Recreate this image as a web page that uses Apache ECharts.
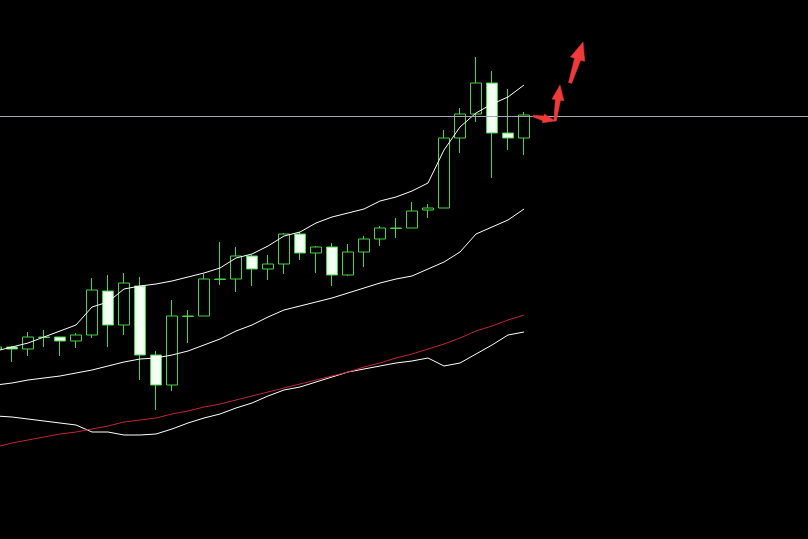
<!DOCTYPE html>
<html>
<head>
<meta charset="utf-8">
<script src="https://cdn.jsdelivr.net/npm/echarts@6/dist/echarts.min.js"></script>
<style>
html,body{margin:0;padding:0;background:#000;}
#chart{width:808px;height:539px;}
</style>
</head>
<body>
<div id="chart"></div>
<script>
// ---- data ----
var slotCount = 52;
var categories = [];
for (var i = 0; i < slotCount; i++) { categories.push('D' + (i + 1)); }

// [open, close, low, high]
var candles = [
  [5.02, 5.06, 4.96, 5.10],
  [5.06, 5.02, 4.76, 5.08],
  [5.02, 5.26, 4.88, 5.36],
  [5.25, 5.26, 5.06, 5.40],
  [5.26, 5.18, 4.88, 5.26],
  [5.18, 5.30, 5.04, 5.34],
  [5.30, 6.20, 5.24, 6.44],
  [6.18, 5.50, 5.06, 6.50],
  [5.50, 6.34, 5.30, 6.54],
  [6.28, 4.90, 4.40, 6.46],
  [4.90, 4.30, 3.80, 4.98],
  [4.30, 5.68, 4.18, 6.00],
  [5.67, 5.68, 5.14, 5.80],
  [5.68, 6.42, 5.68, 6.52],
  [6.41, 6.42, 6.30, 7.16],
  [6.42, 6.88, 6.16, 7.06],
  [6.88, 6.62, 6.28, 6.90],
  [6.62, 6.72, 6.40, 6.90],
  [6.72, 7.32, 6.52, 7.34],
  [7.32, 6.94, 6.80, 7.36],
  [6.94, 7.06, 6.54, 7.08],
  [7.06, 6.50, 6.28, 7.14],
  [6.50, 6.96, 6.48, 7.12],
  [6.96, 7.22, 6.66, 7.28],
  [7.22, 7.44, 7.08, 7.48],
  [7.43, 7.44, 7.24, 7.64],
  [7.44, 7.78, 7.44, 7.96],
  [7.80, 7.84, 7.64, 7.92],
  [7.84, 9.24, 7.84, 9.40],
  [9.24, 9.72, 8.94, 9.84],
  [9.72, 10.34, 9.56, 10.86],
  [10.34, 9.34, 8.44, 10.58],
  [9.34, 9.24, 9.00, 10.22],
  [9.24, 9.70, 8.90, 9.76]
];

var upperBand = [4.98, 5.06, 5.14, 5.26, 5.38, 5.50, 5.86, 5.96, 6.22, 6.28, 6.32, 6.38, 6.46, 6.54, 6.64, 6.84, 6.92, 7.08, 7.28, 7.36, 7.54, 7.66, 7.74, 7.82, 7.98, 8.06, 8.18, 8.34, 9.00, 9.46, 9.74, 9.92, 10.06, 10.30];
var midBand   = [4.30, 4.34, 4.40, 4.44, 4.48, 4.54, 4.60, 4.68, 4.76, 4.82, 4.84, 4.90, 4.98, 5.10, 5.22, 5.38, 5.50, 5.66, 5.80, 5.88, 5.96, 6.04, 6.14, 6.24, 6.34, 6.42, 6.48, 6.62, 6.76, 6.96, 7.32, 7.46, 7.60, 7.82];
var lowerLine = [3.68, 3.66, 3.62, 3.58, 3.54, 3.50, 3.36, 3.36, 3.30, 3.30, 3.32, 3.42, 3.54, 3.64, 3.72, 3.84, 3.94, 4.08, 4.20, 4.26, 4.36, 4.46, 4.56, 4.62, 4.68, 4.74, 4.78, 4.84, 4.68, 4.74, 4.92, 5.10, 5.30, 5.36];
var redLine   = [3.06, 3.14, 3.20, 3.26, 3.32, 3.36, 3.42, 3.48, 3.56, 3.60, 3.64, 3.72, 3.78, 3.86, 3.92, 4.00, 4.08, 4.16, 4.24, 4.32, 4.40, 4.48, 4.56, 4.66, 4.74, 4.84, 4.92, 5.02, 5.12, 5.24, 5.38, 5.48, 5.60, 5.70];

var refLevel = 9.68;

// arrows: [fromIndex, fromPrice, toIndex, toPrice]
var arrows = [
  [33.56, 9.68, 34.94, 9.58],
  [34.94, 9.58, 35.25, 10.30],
  [35.88, 10.34, 36.69, 11.16]
];

// ---- styles (not data) ----
var arrowSizes = [
  { w0: 0.8, w1: 2.4, hl: 12, hw: 4.5 },
  { w0: 1.2, w1: 2.6, hl: 15, hw: 6 },
  { w0: 1.6, w1: 3.2, hl: 18, hw: 7.5 }
];

var chart = echarts.init(document.getElementById('chart'), null, { renderer: 'canvas' });

function arrowRender(params, api) {
  var p1 = api.coord([api.value(0), api.value(1)]);
  var p2 = api.coord([api.value(2), api.value(3)]);
  var dx = p2[0] - p1[0], dy = p2[1] - p1[1];
  var len = Math.sqrt(dx * dx + dy * dy);
  var ux = dx / len, uy = dy / len;
  var nx = -uy, ny = ux;
  var s = arrowSizes[params.dataIndex];
  var bx = p2[0] - ux * s.hl, by = p2[1] - uy * s.hl;
  var pts = [
    [p1[0] + nx * s.w0, p1[1] + ny * s.w0],
    [bx + nx * s.w1, by + ny * s.w1],
    [bx + nx * s.hw, by + ny * s.hw],
    [p2[0], p2[1]],
    [bx - nx * s.hw, by - ny * s.hw],
    [bx - nx * s.w1, by - ny * s.w1],
    [p1[0] - nx * s.w0, p1[1] - ny * s.w0]
  ];
  return {
    type: 'polygon',
    shape: { points: pts },
    style: { fill: '#f03a3a', stroke: '#f03a3a', lineWidth: 0.5 }
  };
}

var lineStyleWhite = { color: '#ffffff', width: 1 };

var option = {
  backgroundColor: '#000000',
  animation: false,
  grid: { left: -12, top: 0, width: 832, height: 539, containLabel: false, outerBoundsMode: 'none' },
  xAxis: [
    { type: 'category', data: categories, show: false, boundaryGap: true },
    { type: 'value', min: -0.5, max: slotCount - 0.5, show: false }
  ],
  yAxis: [{ type: 'value', min: 1.22, max: 12, show: false, scale: true }],
  series: [
    {
      type: 'candlestick',
      data: candles,
      barWidth: 11,
      itemStyle: {
        color: '#000000',
        color0: '#f2fff2',
        borderColor: '#44d444',
        borderColor0: '#44d444',
        borderWidth: 1
      },
      markLine: {
        silent: true,
        symbol: ['none', 'none'],
        label: { show: false },
        lineStyle: { color: '#a4a4b4', width: 1, type: 'solid' },
        data: [{ yAxis: refLevel }]
      },
      z: 3
    },
    { type: 'line', data: upperBand, symbol: 'none', lineStyle: lineStyleWhite, z: 4 },
    { type: 'line', data: midBand, symbol: 'none', lineStyle: lineStyleWhite, z: 4 },
    { type: 'line', data: lowerLine, symbol: 'none', lineStyle: lineStyleWhite, z: 4 },
    { type: 'line', data: redLine, symbol: 'none', lineStyle: { color: '#c4262c', width: 1 }, z: 4 },
    {
      type: 'custom',
      xAxisIndex: 1,
      renderItem: arrowRender,
      data: arrows,
      encode: { x: [0, 2], y: [1, 3] },
      z: 5
    }
  ]
};
chart.setOption(option);
</script>
</body>
</html>
